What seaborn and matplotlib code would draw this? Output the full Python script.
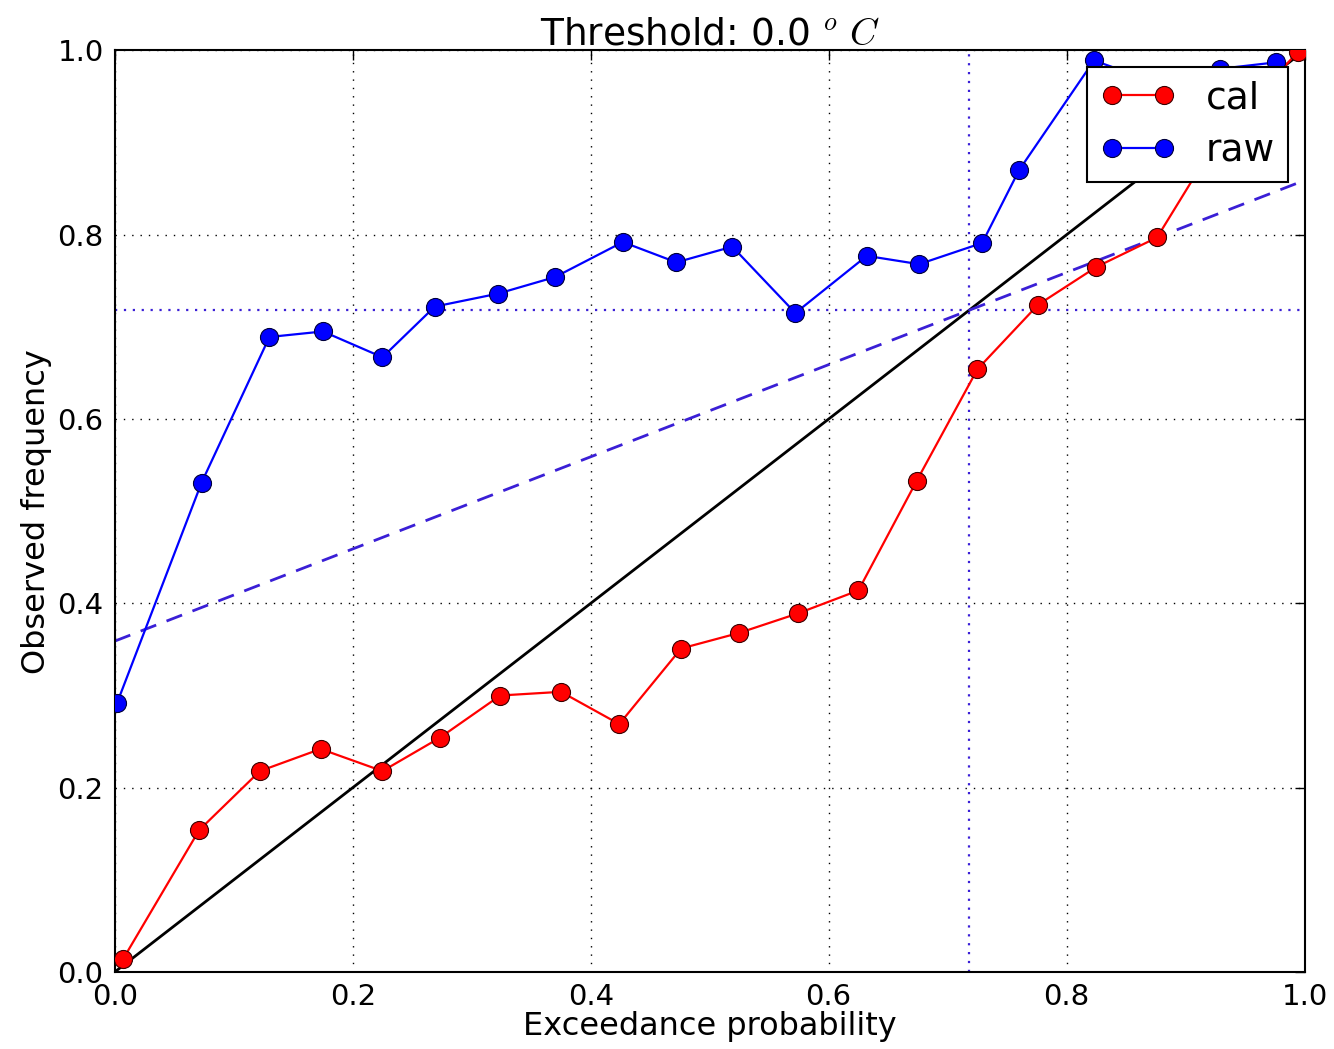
import pandas as pd
import seaborn as sns
import matplotlib.pyplot as plt

# exceedance probability bins and observed frequencies
raw_x = [0.002, 0.073, 0.130, 0.175, 0.225, 0.269, 0.322, 0.370, 0.427, 0.472, 0.519,
         0.572, 0.632, 0.676, 0.729, 0.760, 0.823, 0.875, 0.929, 0.976]
raw_y = [0.292, 0.531, 0.689, 0.695, 0.667, 0.722, 0.736, 0.754, 0.792, 0.770, 0.787,
         0.715, 0.777, 0.768, 0.791, 0.870, 0.989, 0.965, 0.980, 0.987]
cal_x = [0.007, 0.071, 0.122, 0.173, 0.225, 0.273, 0.324, 0.375, 0.424, 0.476, 0.525,
         0.574, 0.625, 0.674, 0.725, 0.776, 0.825, 0.876, 0.925, 0.994]
cal_y = [0.014, 0.154, 0.218, 0.242, 0.218, 0.254, 0.300, 0.304, 0.269, 0.351, 0.368,
         0.389, 0.414, 0.533, 0.654, 0.724, 0.765, 0.797, 0.900, 0.998]
clim = 0.718  # climatological frequency
ticks = [0.0, 0.2, 0.4, 0.6, 0.8, 1.0]

cal = pd.DataFrame({"prob": cal_x, "freq": cal_y})
raw = pd.DataFrame({"prob": raw_x, "freq": raw_y})

sns.set_style("white")
plt.rcParams["font.family"] = ["DejaVu Sans"]
plt.rcParams["mathtext.fontset"] = "cm"
plt.rcParams["text.color"] = "k"
plt.rcParams["axes.labelcolor"] = "k"
plt.rcParams["xtick.color"] = "k"
plt.rcParams["ytick.color"] = "k"

fig = plt.figure(figsize=(13.34, 10.49), dpi=100)
ax = fig.add_axes([0.086, 0.0734, 0.892, 0.8786])

# reference lines
ax.plot([0, 1], [0, 1], color="k", lw=2, zorder=2)
ax.plot([0, 1], [clim / 2, (1 + clim) / 2], color="#3a1fd6", lw=2, ls=(0, (6, 4)), zorder=2)
ax.axhline(clim, color="#3a1fd6", lw=1.6, ls=(0, (1, 3)), zorder=2)
ax.axvline(clim, color="#3a1fd6", lw=1.6, ls=(0, (1, 3)), zorder=2)

sns.lineplot(data=cal, x="prob", y="freq", ax=ax, color="red", marker="o", markersize=13,
             markeredgecolor="#3a0000", markeredgewidth=0.8, lw=1.6, label="cal", zorder=3, sort=False)
sns.lineplot(data=raw, x="prob", y="freq", ax=ax, color="blue", marker="o", markersize=13,
             markeredgecolor="#00003a", markeredgewidth=0.8, lw=1.6, label="raw", zorder=3, sort=False)

ax.set_xlim(0, 1)
ax.set_ylim(0, 1)
ax.set_xticks(ticks)
ax.set_yticks(ticks)
ax.tick_params(direction="in", top=True, right=True, length=7, width=1, labelsize=21, pad=8)
ax.grid(True, color="k", ls=(0, (1, 5)), lw=1)
for s in ax.spines.values():
    s.set_color("k")
    s.set_linewidth(1.5)

ax.set_xlabel("Exceedance probability", fontsize=23, labelpad=0)
ax.set_ylabel("Observed frequency", fontsize=23, labelpad=4)
ax.set_title(r"Threshold: 0.0 $^o\ C$", fontsize=27, pad=4)

leg = ax.legend(loc="upper right", numpoints=2, fontsize=27, fancybox=False, framealpha=1,
                edgecolor="k", borderaxespad=0.45, handlelength=2.0, handletextpad=0.8,
                borderpad=0.35, labelspacing=0.45)
leg.get_frame().set_linewidth(1.5)
leg.set_zorder(5)

fig.savefig("out.png", dpi=100)
